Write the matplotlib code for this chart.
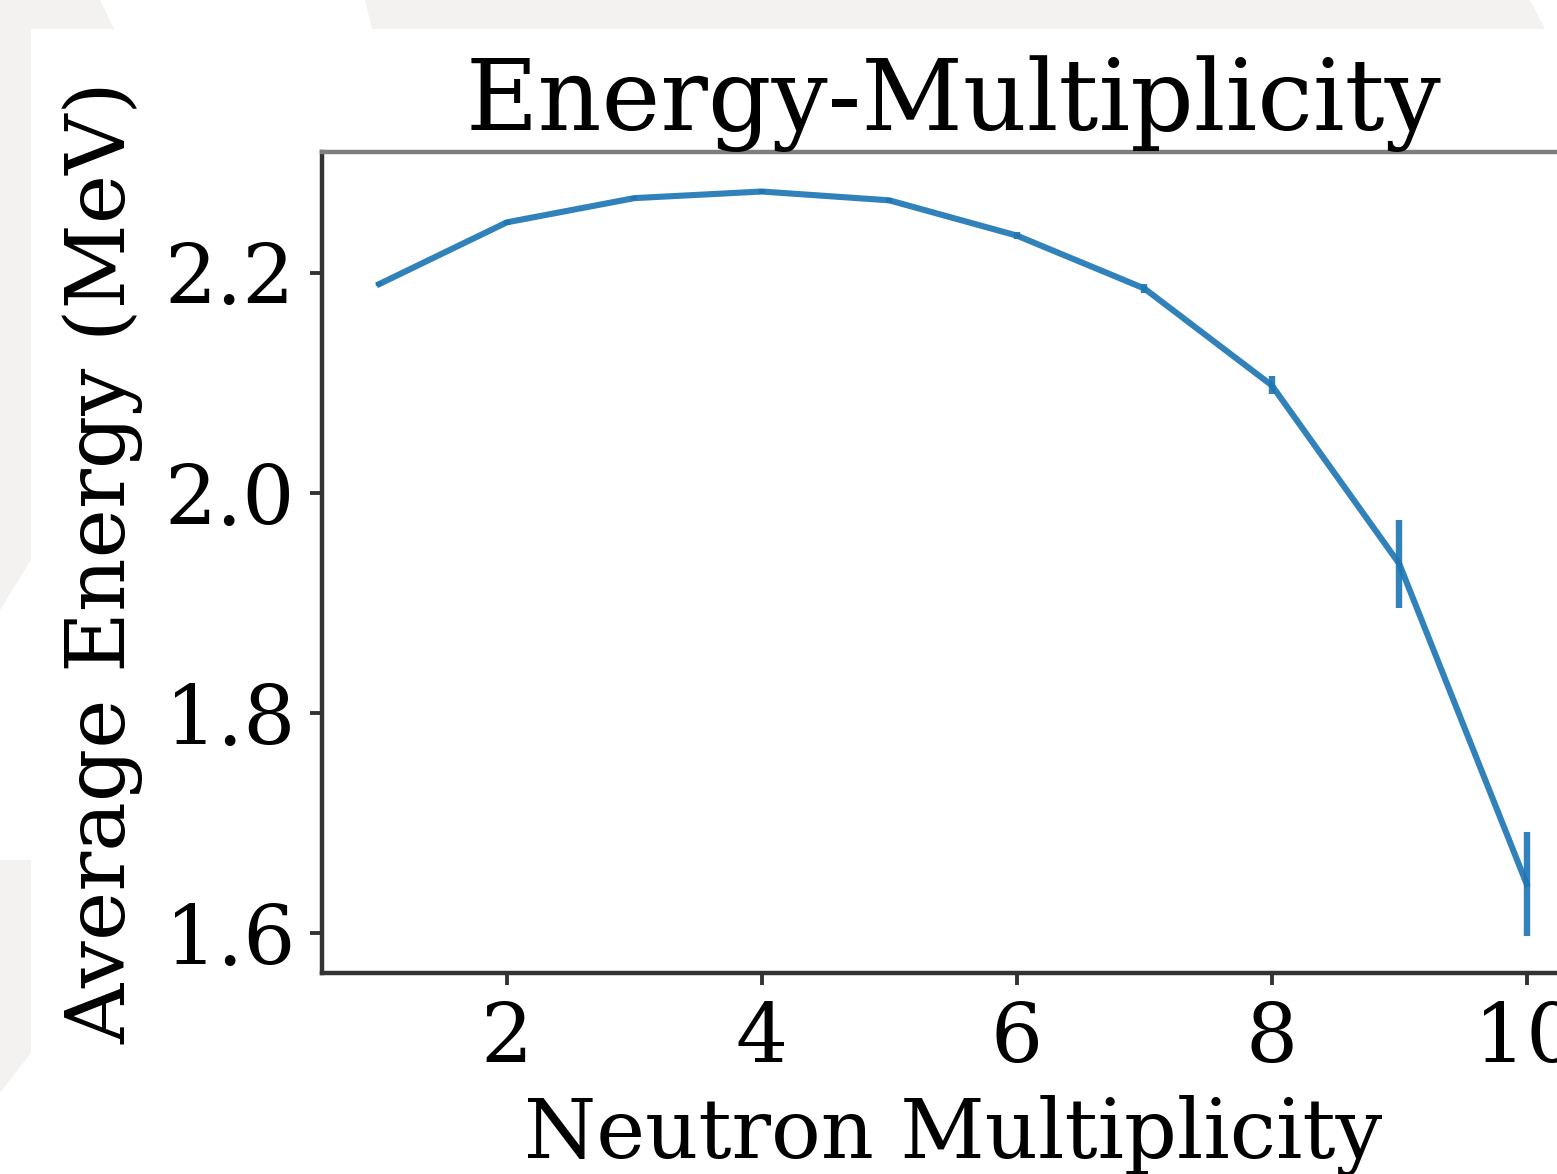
import matplotlib
matplotlib.use('Agg')
import matplotlib.pyplot as plt
from matplotlib.patches import Polygon

# ---- data ----
multiplicity = [1, 2, 3, 4, 5, 6, 7, 8, 9, 10]
avg_energy = [2.190, 2.246, 2.268, 2.274, 2.266, 2.234, 2.186, 2.098, 1.936, 1.645]
energy_err = [0.002, 0.002, 0.002, 0.002, 0.002, 0.003, 0.004, 0.008, 0.040, 0.047]
x_ticks = [2, 4, 6, 8, 10]
y_ticks = [1.6, 1.8, 2.0, 2.2]

W, H = 1557, 1174
BG = '#f3f2f0'
plt.rcParams['font.family'] = ['DejaVu Serif']

fig = plt.figure(figsize=(W / 100, H / 100), dpi=100, facecolor=BG)


def px_poly(pts, color='white'):
    fig.add_artist(Polygon([(x / W, 1 - y / H) for x, y in pts], closed=True,
                           transform=fig.transFigure, facecolor=color,
                           edgecolor='none', zorder=-5))


# background decoration (slide behind the chart)
px_poly([(31, 29), (W, 29), (W, H), (31, H)])            # white panel
px_poly([(100, 0), (365, 0), (372, 29), (114, 29)])       # top-left white wedge
px_poly([(1530, 0), (W, 0), (W, 29), (1545, 29)])         # top-right white
px_poly([(0, 610), (31, 560), (31, 860), (0, 860)])       # left white gap
px_poly([(0, 1093), (33, 1050), (33, H), (0, H)])         # bottom-left white

ax = fig.add_axes([322 / W, 1 - 973 / H, (1584 - 322) / W, (973 - 152) / H])
ax.set_facecolor('white')

ax.errorbar(multiplicity, avg_energy, yerr=energy_err, color='#1f77b4',
            lw=4.4, elinewidth=4.6, alpha=0.92)

ax.set_xticks(x_ticks)
ax.set_yticks(y_ticks)
ax.set_yticklabels([f'{v:.1f}' for v in y_ticks])

for name, sp in ax.spines.items():
    sp.set_linewidth(3.2)
    sp.set_color('#333333')
ax.spines['top'].set_color('#7f7f7f')

ax.tick_params(axis='both', length=8.5, width=2.8, color='#333333',
               labelsize=59, pad=11)

ax.set_title('Energy-Multiplicity', fontsize=71.5, pad=14)
ax.set_xlabel('Neutron Multiplicity', fontsize=59.5, labelpad=11)
ax.set_ylabel('Average Energy (MeV)', fontsize=60, labelpad=15)

fig.savefig('out.png', dpi=100, facecolor=fig.get_facecolor())
